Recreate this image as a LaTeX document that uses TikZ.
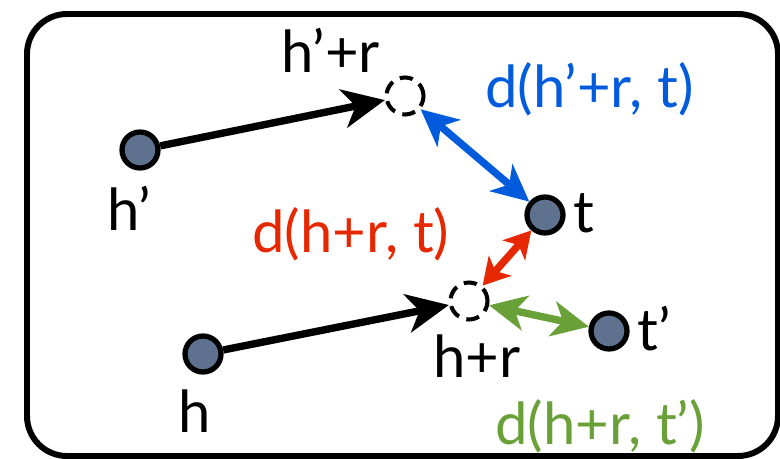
\documentclass[tikz,border=0pt]{standalone}
\usepackage{fontspec}
\setmainfont{Lato}
\usepackage{xcolor}
\usetikzlibrary{arrows.meta, positioning}

\definecolor{entityfill}{RGB}{94,114,143}
\definecolor{distblue}{RGB}{0,92,220}
\definecolor{distred}{RGB}{230,40,0}
\definecolor{distgreen}{RGB}{105,160,55}

\begin{document}
\begin{tikzpicture}[x=0.02cm, y=-0.02cm,
  entity/.style={circle, draw=black, line width=3pt, fill=entityfill,
    minimum size=0.72cm, inner sep=0pt},
  shifted/.style={circle, draw=black, line width=2.3pt,
    dash pattern=on 7.5pt off 4.5pt, minimum size=0.74cm, inner sep=0pt},
  lbl/.style={anchor=base west, inner sep=0pt,
    font=\fontsize{33pt}{38pt}\selectfont},
  trans/.style={line width=4.2pt,
    -{Stealth[length=24pt, width=22pt, inset=7pt]}},
  dist/.style={line width=4.2pt,
    {Stealth[length=21pt, width=20pt, inset=6pt]}-{Stealth[length=21pt, width=20pt, inset=6pt]}},
  distshort/.style={line width=4.2pt,
    {Stealth[length=15pt, width=17pt, inset=4pt]}-{Stealth[length=15pt, width=17pt, inset=4pt]}}]
  \useasboundingbox (0,0) rectangle (780,459);

  % Frame
  \draw[line width=3.4pt, rounded corners=0.8cm] (27,14) rectangle (778,456);

  % Entities
  \node[entity] (hp) at (140,150) {};
  \node[entity] (t)  at (545,215) {};
  \node[entity] (tp) at (609,331) {};
  \node[entity] (h)  at (203,354) {};

  % Translated heads
  \node[shifted] (hpr) at (405,96) {};
  \node[shifted] (hr)  at (469,301) {};

  % Translations
  \draw[trans] (hp) -- (hpr);
  \draw[trans] (h) -- (hr);

  % Distances
  \draw[dist, distblue] (hpr) -- (t);
  \draw[distshort, distred] (t) -- (hr);
  \draw[dist, distgreen] (hr) -- (tp);

  % Labels
  \node[lbl] (lhpr) at (281,73) {h’+r};
  \node[lbl] (lhp)  at (107,230) {h’};
  \node[lbl] (lt)   at (573,232) {t};
  \node[lbl] (ltp)  at (637,350) {t’};
  \node[lbl] (lhr)  at (433,377) {h+r};
  \node[lbl] (lh)   at (178,432) {h};

  % Distance labels
  \node[lbl, distblue]  (dblue)  at (485,108) {d(h’+r, t)};
  \node[lbl, distred]   (dred)   at (252,252) {d(h+r, t)};
  \node[lbl, distgreen] (dgreen) at (495,444) {d(h+r, t’)};

\end{tikzpicture}
\end{document}
